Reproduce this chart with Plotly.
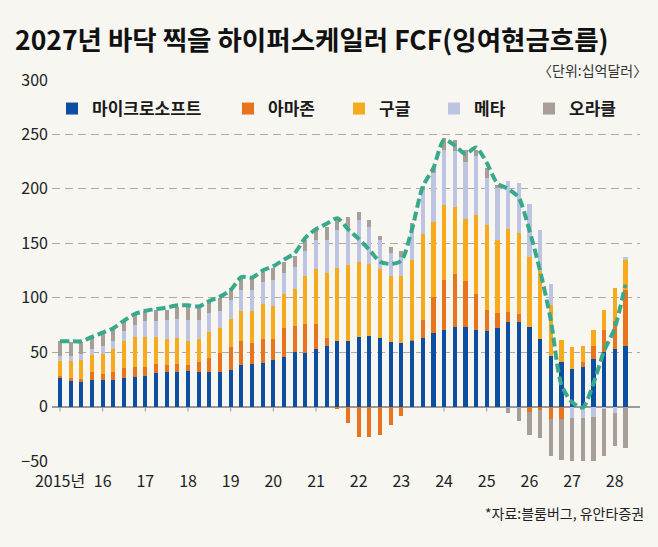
import plotly.graph_objects as go

# ---------------- data (십억달러, 분기별) ----------------
years = list(range(2015, 2029))
year_labels = ["2015년", "16", "17", "18", "19", "20", "21", "22", "23", "24", "25", "26", "27", "28"]
n_quarters = 54  # 2015 1Q ~ 2028 2Q
periods = [(2015 + i // 4, i % 4 + 1) for i in range(n_quarters)]

series_names = ["마이크로소프트", "아마존", "구글", "메타", "오라클"]
series_colors = ["#0b4ea2", "#e8751d", "#f6aa1c", "#bcc4e2", "#a89e99"]

msft = [26.5, 23.4, 23.4, 24.0, 24.0, 24.3, 25.8, 26.8, 27.7, 31.1,
        32.0, 32.0, 32.9, 31.7, 31.6, 31.8, 33.2, 38.2, 38.8, 40.0,
        42.9, 45.6, 49.8, 49.2, 53.2, 55.4, 60.0, 60.6, 63.7, 64.6,
        63.2, 59.0, 58.0, 60.6, 63.0, 68.0, 70.5, 73.5, 73.0, 70.5,
        69.8, 72.0, 77.5, 77.5, 73.0, 62.0, 46.8, 41.2, 34.5, 36.0,
        43.7, 49.8, 53.0, 56.0]
amzn = [1.8, 2.8, 1.8, 7.4, 5.5, 7.4, 9.6, 9.8, 8.9, 8.0,
        5.8, 6.8, 5.6, 9.1, 13.0, 17.2, 21.3, 21.6, 19.5, 22.2,
        19.3, 26.2, 23.8, 26.8, 22.5, 7.6, -2.3, -14.8, -27.5, -28.0,
        -26.0, -17.0, -8.6, 1.0, 16.5, 32.6, 45.5, 48.5, 42.4, 32.5,
        19.2, 13.8, 9.3, 7.7, -4.6, -3.4, -11.7, -11.7, 0.0, 4.6,
        12.3, 21.0, 26.0, 51.4]
goog = [13.9, 16.0, 17.9, 16.3, 19.1, 21.2, 24.6, 27.1, 27.7, 25.2,
        24.5, 24.6, 21.3, 21.4, 23.7, 23.3, 25.5, 28.2, 29.7, 31.6,
        29.8, 31.9, 34.7, 43.7, 51.1, 60.0, 67.2, 69.4, 68.8, 66.2,
        63.6, 61.0, 61.5, 73.0, 79.3, 69.2, 69.2, 61.0, 56.6, 73.0,
        77.8, 67.2, 76.0, 73.8, 64.5, 63.0, 46.2, 20.0, 20.0, 15.4,
        14.5, 17.5, 30.0, 27.1]
meta = [4.6, 4.0, 4.9, 5.2, 7.4, 7.7, 9.2, 10.8, 14.2, 14.2,
        17.4, 17.1, 19.6, 17.5, 17.5, 15.7, 17.5, 18.8, 18.8, 20.4,
        24.0, 19.1, 20.0, 23.3, 26.2, 30.0, 34.8, 34.0, 39.0, 34.0,
        26.0, 21.0, 18.0, 28.0, 40.2, 44.7, 50.8, 51.5, 53.0, 54.0,
        43.2, 47.6, 44.0, 46.0, 48.5, 37.0, 20.0, 0.0, -10.8, -10.8,
        -10.0, -2.5, -5.5, 2.5]
orcl = [13.2, 12.9, 11.1, 10.2, 11.4, 10.5, 9.8, 10.7, 9.2, 10.4,
        9.0, 10.8, 11.7, 12.8, 11.2, 12.2, 11.2, 11.2, 10.7, 9.1,
        11.5, 10.2, 10.0, 10.3, 9.4, 12.2, 9.4, 10.0, 7.5, 6.2,
        4.2, 5.5, 5.5, 6.0, 4.0, 4.5, 10.8, 10.5, 11.0, 6.0,
        9.0, 3.1, -5.5, -13.2, -21.5, -25.2, -33.8, -37.0, -39.2, -41.5,
        -42.3, -43.0, -30.8, -38.5]
total_fcf = [60, 60, 60, 64, 68, 72, 79, 85, 88, 89.5,
             91, 93, 93, 92, 97, 101, 107, 119, 118.5, 125,
             129, 135, 141, 155, 163, 168, 173, 163, 154, 144,
             133, 131, 134, 163, 202, 219, 245, 240, 232, 238,
             224, 205, 200, 192, 162, 125, 80, 20, 4, -1,
             21, 51, 72, 112]

# ---------------- figure ----------------
FONT = "Noto Sans CJK KR"
BG = "#f7f6f1"
x_vals = [y + (q - 1) / 4 for (y, q) in periods]

fig = go.Figure()
all_series = [msft, amzn, goog, meta, orcl]
legend_ids = ["legend", "legend2", "legend3", "legend4", "legend5"]
for name, vals, col, lg in zip(series_names, all_series, series_colors, legend_ids):
    fig.add_trace(go.Bar(
        x=x_vals, y=vals, name=name, marker=dict(color=col, line=dict(width=0)),
        width=0.1, legend=lg, showlegend=True,
    ))

fig.add_trace(go.Scatter(
    x=x_vals, y=total_fcf, mode="lines", showlegend=False,
    line=dict(color="#38a98a", width=4, dash="9px,4px", shape="spline", smoothing=0.7),
))

L, R, T, B = 52, 18, 80, 86
W, H = 658, 547
pw = W - L - R
ph = H - T - B
y_min, y_max = -50, 300

# small tick marks hanging from the zero line at each year start
for yr in years:
    fig.add_shape(type="line", xref="x", yref="y", x0=yr, x1=yr,
                  ysizemode="pixel", yanchor=0, y0=0, y1=-5,
                  line=dict(color="#999999", width=1), layer="below")


def legend_cfg(text_px):
    return dict(
        x=(text_px - 40 - L) / pw, xanchor="left",
        y=(H - B - 109) / ph, yanchor="middle",
        orientation="h", bgcolor="rgba(0,0,0,0)", borderwidth=0,
        font=dict(family=FONT, size=17, color="#1a1a1a", weight="bold"),
        itemclick=False, itemdoubleclick=False,
    )


text_starts = [92, 268, 379, 474, 569]
legend_layout = {lg: legend_cfg(tx) for lg, tx in zip(legend_ids, text_starts)}

fig.update_layout(
    width=W, height=H,
    margin=dict(l=L, r=R, t=T, b=B, pad=0),
    paper_bgcolor=BG, plot_bgcolor=BG,
    barmode="relative", bargap=0,
    font=dict(family=FONT, color="#222222"),
    title=dict(
        text="2027년 바닥 찍을 하이퍼스케일러 FCF(잉여현금흐름)",
        x=15 / W, xanchor="left", xref="container",
        y=1 - 41 / H, yanchor="middle", yref="container",
        font=dict(family=FONT, size=26.5, color="#111111", weight="bold"),
    ),
    xaxis=dict(
        range=[2015 - 8 / 42.67, 2015 + 580 / 42.67],
        tickmode="array", tickvals=years, ticktext=year_labels,
        ticks="", showgrid=False, zeroline=False, showline=False,
        tickfont=dict(family=FONT, size=16, color="#222222"),
        ticklabelstandoff=9,
    ),
    yaxis=dict(
        range=[y_min, y_max], dtick=50, tick0=0,
        showgrid=True, gridcolor="#aaaaaa", gridwidth=1, griddash="8px,5px",
        zeroline=True, zerolinecolor="#9a9a9a", zerolinewidth=1.5,
        showline=False, ticks="",
        tickfont=dict(family=FONT, size=16, color="#222222"),
        ticklabelstandoff=3,
    ),
    annotations=[
        dict(text="〈단위:십억달러〉", xref="paper", yref="paper",
             x=(649 - L) / pw, xanchor="right", y=(H - B - 70) / ph, yanchor="middle",
             showarrow=False, font=dict(family=FONT, size=14, color="#333333")),
        dict(text="*자료:블룸버그, 유안타증권", xref="paper", yref="paper",
             x=(646 - L) / pw, xanchor="right", y=(H - B - 513) / ph, yanchor="middle",
             showarrow=False, font=dict(family=FONT, size=14, color="#222222")),
    ],
    **legend_layout,
)

fig.write_html("out.html", config={"displayModeBar": False},
               post_script="document.body.style.margin='0';")
